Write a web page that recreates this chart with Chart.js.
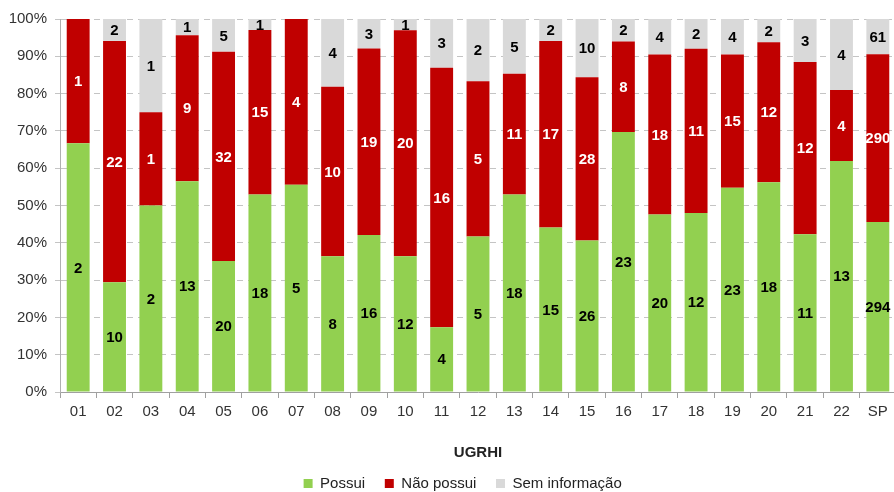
<!DOCTYPE html>
<html>
<head>
<meta charset="utf-8">
<script src="https://cdn.jsdelivr.net/npm/chart.js@4"></script>
<style>
  body { margin: 0; overflow: hidden; background: #fff; }
  #wrap { width: 896px; height: 492px; }
</style>
</head>
<body>
<div id="wrap"><canvas id="ugrhi"></canvas></div>
<script>
// UGRHI e contagens por situação
var categorias = ['01','02','03','04','05','06','07','08','09','10','11','12','13','14','15','16','17','18','19','20','21','22','SP'];
var possui      = [2, 10, 2, 13, 20, 18, 5, 8, 16, 12, 4, 5, 18, 15, 26, 23, 20, 12, 23, 18, 11, 13, 294];
var naoPossui   = [1, 22, 1, 9, 32, 15, 4, 10, 19, 20, 16, 5, 11, 17, 28, 8, 18, 11, 15, 12, 12, 4, 290];
var semInfo     = [0, 2, 1, 1, 5, 1, 0, 4, 3, 1, 3, 2, 5, 2, 10, 2, 4, 2, 4, 2, 3, 4, 61];
var yTicks      = [0, 10, 20, 30, 40, 50, 60, 70, 80, 90, 100];

// 100% empilhado: participação de cada grupo no total da UGRHI
function pct(arr) {
    var out = [];
    for (var i = 0; i < arr.length; i++) {
        var tot = possui[i] + naoPossui[i] + semInfo[i];
        out.push(arr[i] / tot * 100);
    }
    return out;
}

var series = [
    { label: 'Possui', counts: possui, color: '#92D050', text: '#000' },
    { label: 'Não possui', counts: naoPossui, color: '#C00000', text: '#fff' },
    { label: 'Sem informação', counts: semInfo, color: '#D9D9D9', text: '#000' }
];

var FONT = '"Liberation Sans", Arial, sans-serif';

// rótulos com as contagens no meio de cada segmento
var countLabels = {
    id: 'countLabels',
    beforeLayout: function(chart) {
        // legenda ocupa menos altura embaixo
        var lg = chart.legend;
        if (lg && !lg._fitPatched) {
            var origFit = lg.fit;
            lg.fit = function() {
                origFit.apply(this, arguments);
                this.height -= 9;
            };
            lg._fitPatched = true;
        }
    },
    afterLayout: function(chart) {
        // legenda um pouco à direita, como no original
        chart.legend.left += 23;
        chart.legend.right += 23;
    },
    afterDatasetsDraw: function(chart) {
        var ctx = chart.ctx;
        ctx.save();
        ctx.font = 'bold 15px ' + FONT;
        ctx.textAlign = 'center';
        ctx.textBaseline = 'middle';
        chart.data.datasets.forEach(function(ds, di) {
            var meta = chart.getDatasetMeta(di);
            meta.data.forEach(function(bar, i) {
                var n = series[di].counts[i];
                if (!n) return;
                ctx.fillStyle = series[di].text;
                ctx.fillText(String(n), bar.x, (bar.y + bar.base) / 2 + 1);
            });
        });
        ctx.restore();
    }
};

new Chart(document.getElementById('ugrhi'), {
    type: 'bar',
    data: {
        labels: categorias,
        datasets: series.map(function(s) {
            return {
                label: s.label,
                data: pct(s.counts),
                backgroundColor: s.color,
                borderWidth: 0,
                categoryPercentage: 1,
                barPercentage: 0.63
            };
        })
    },
    options: {
        responsive: true,
        maintainAspectRatio: false,
        animation: false,
        layout: { padding: { top: 19, left: 0, right: 0, bottom: 0 } },
        plugins: {
            legend: {
                position: 'bottom',
                labels: {
                    boxWidth: 9, boxHeight: 9, padding: 3,
                    color: '#222',
                    font: { family: FONT, size: 15 },
                    generateLabels: function(chart) {
                        var items = Chart.defaults.plugins.legend.labels.generateLabels(chart);
                        items.forEach(function(it) { it.text = it.text + '    '; });
                        return items;
                    }
                }
            },
            tooltip: { enabled: false },
            title: { display: false }
        },
        scales: {
            x: {
                stacked: true,
                grid: { display: true, drawOnChartArea: false, drawTicks: true, tickLength: 6, color: '#a0a0a0' },
                border: { color: '#a0a0a0' },
                ticks: {
                    color: '#333', padding: 5,
                    font: { family: FONT, size: 15 }
                },
                title: {
                    display: true, text: 'UGRHI', color: '#222',
                    font: { family: FONT, size: 15, weight: 'bold' },
                    padding: { top: 18, bottom: 11 }
                }
            },
            y: {
                stacked: true,
                min: 0, max: 100,
                afterFit: function(scale) { scale.width = 60; },
                afterBuildTicks: function(scale) {
                    scale.ticks = yTicks.map(function(v) { return { value: v }; });
                },
                grid: { color: '#c4c4c4', drawTicks: true, tickLength: 5 },
                border: { color: '#b0b0b0', dash: [6, 5] },
                ticks: {
                    color: '#333', padding: 8,
                    font: { family: FONT, size: 15 },
                    callback: function(v) { return v + '%'; }
                }
            }
        }
    },
    plugins: [countLabels]
});
</script>
</body>
</html>
